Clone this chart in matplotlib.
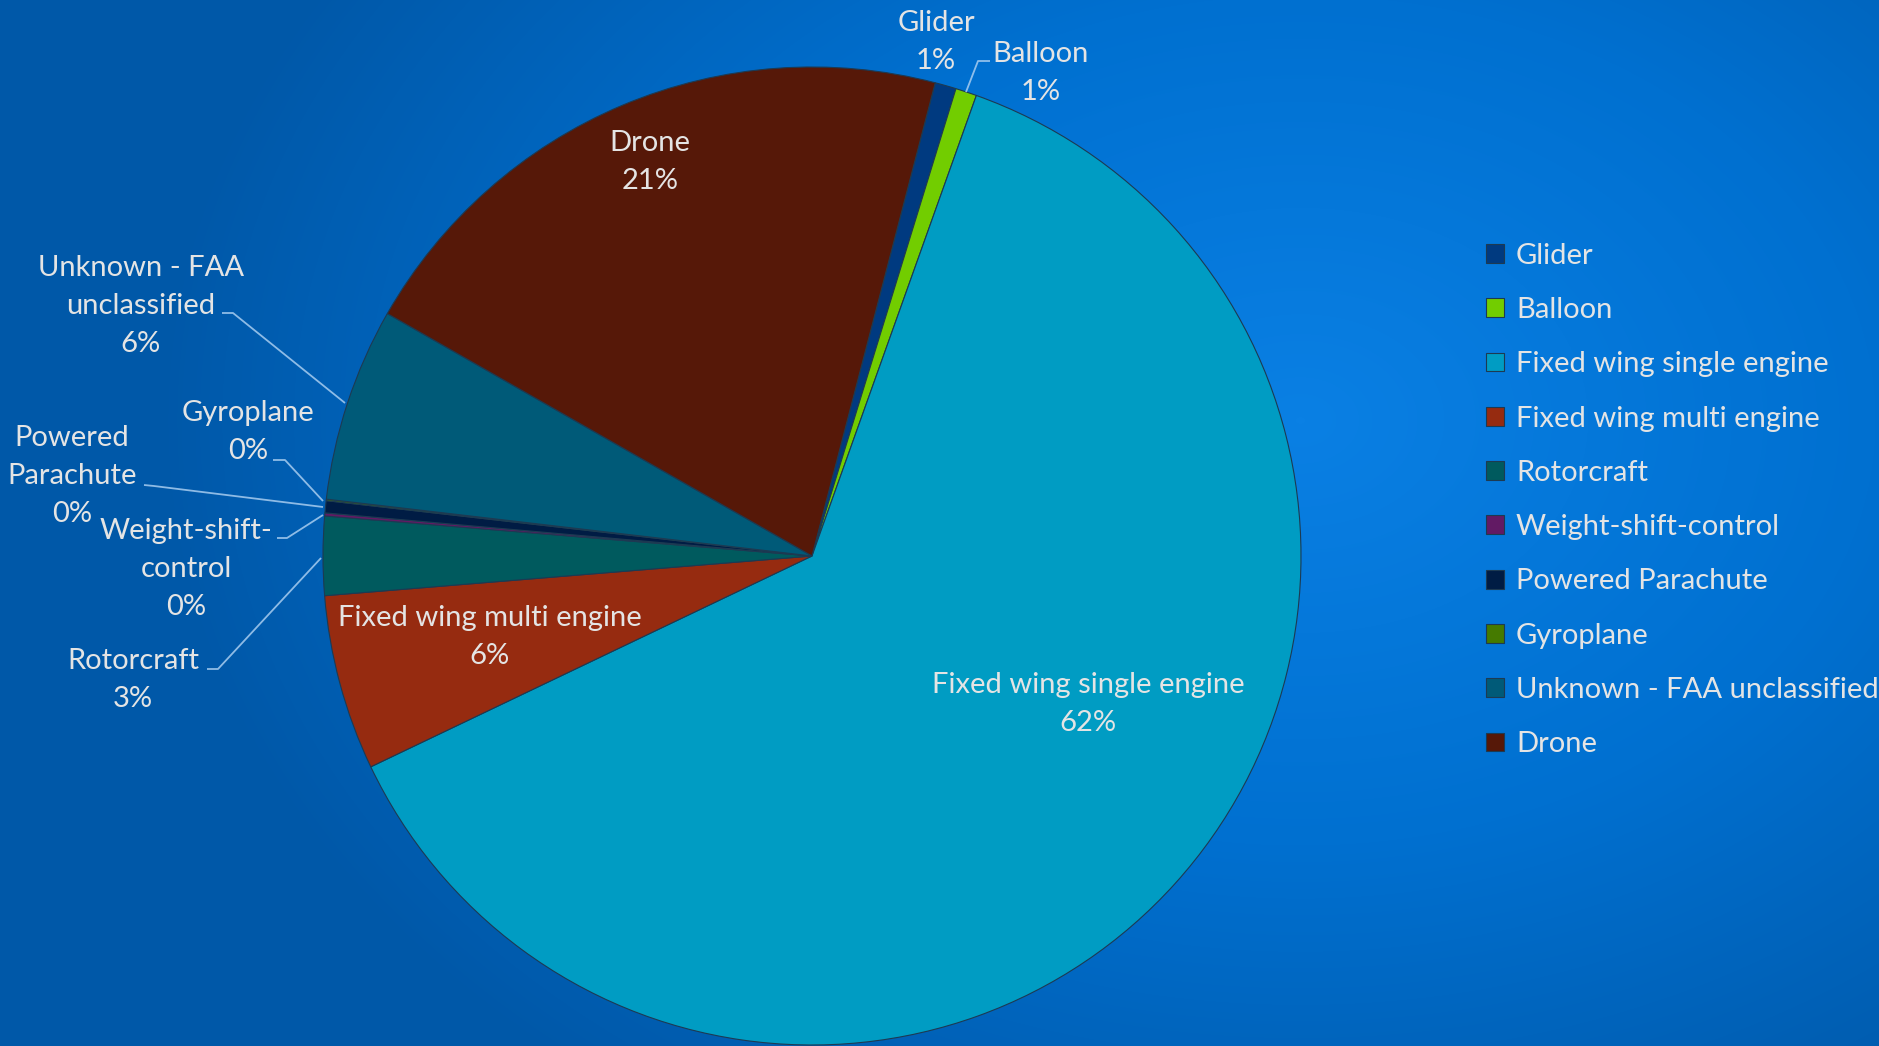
import numpy as np
import matplotlib
matplotlib.use("Agg")
import matplotlib.pyplot as plt
from matplotlib.colors import LinearSegmentedColormap

# data
categories = ["Glider", "Balloon", "Fixed wing single engine", "Fixed wing multi engine",
              "Rotorcraft", "Weight-shift-control", "Powered Parachute", "Gyroplane",
              "Unknown - FAA unclassified", "Drone"]
shares = [0.7, 0.7, 62.45, 5.8, 2.6, 0.1, 0.4, 0.05, 6.4, 20.8]
colors = ["#003a80", "#72cd00", "#009cc3", "#962b10", "#005a5e",
          "#621a64", "#001c44", "#457a00", "#005a78", "#561808"]

# label text as shown on the chart (line breaks) and where it sits, in pixels from top-left
label_text = ["Glider", "Balloon", "Fixed wing single engine", "Fixed wing multi engine",
              "Rotorcraft", "Weight-shift-\ncontrol", "Powered\nParachute", "Gyroplane",
              "Unknown - FAA\nunclassified", "Drone"]
label_pos = [(936, 42), (1041, 73), (1088, 704), (490, 637), (133, 680),
             (186, 569), (72, 476), (248, 432), (141, 306), (650, 162)]
# leader lines (pixels from top-left), None for labels inside the pie
leaders = [None,
           [(990, 61), (978, 61), (966, 92)],
           None, None,
           [(207, 669), (218, 669), (321, 558)],
           [(277, 538), (287, 538), (323, 515)],
           [(144, 485), (154, 486), (323, 507)],
           [(273, 460), (285, 460), (323, 501)],
           [(222, 313), (233, 313), (345, 403)],
           None]

W, H = 1879, 1046
TXT = "#e4e4e4"
FS = 21
plt.rcParams["font.family"] = ["Lato", "DejaVu Sans"]

fig = plt.figure(figsize=(W / 100, H / 100), dpi=100)

# background radial gradient
bg = fig.add_axes([0, 0, 1, 1])
yy, xx = np.mgrid[0:H, 0:W]
d = np.sqrt(((xx - 1300) / 1150.0) ** 2 + ((yy - 420) / 850.0) ** 2)
d = np.clip(d, 0, 1)
cmap = LinearSegmentedColormap.from_list("bg", ["#0a80e4", "#0070d0", "#0058a8"])
bg.imshow(d, cmap=cmap, extent=(0, W, H, 0), aspect="auto", vmin=0, vmax=1)
bg.set_axis_off()

ax = fig.add_axes([0, 0, 1, 1])
ax.patch.set_alpha(0)

cx, cy, r = 812, H - 556, 489
wedges, _ = ax.pie(shares, colors=colors, startangle=75.4, counterclock=False,
                   center=(cx, cy), radius=r, frame=True,
                   wedgeprops=dict(edgecolor="#1d3a52", linewidth=0.8))
ax.set_xlim(0, W)
ax.set_ylim(0, H)
ax.set_aspect("equal")
ax.set_axis_off()

total = sum(shares)
for i, cat in enumerate(categories):
    pct = f"{shares[i] / total * 100:.0f}%"
    x, y = label_pos[i]
    ax.text(x, H - y, label_text[i] + "\n" + pct, ha="center", va="center",
            color=TXT, fontsize=FS, linespacing=1.55)
    if leaders[i] is not None:
        px = [p[0] for p in leaders[i]]
        py = [H - p[1] for p in leaders[i]]
        ax.plot(px, py, color="#a8cdf0", lw=1.3, alpha=0.85, solid_capstyle="butt")

leg = ax.legend(wedges, categories, loc="center left", bbox_to_anchor=(0.791, 0.522),
                bbox_transform=fig.transFigure, frameon=False, fontsize=FS,
                labelcolor=TXT, handlelength=0.62, handleheight=0.62,
                handletextpad=0.4, labelspacing=0.97, borderpad=0, borderaxespad=0)

fig.savefig("out.png", dpi=100)
